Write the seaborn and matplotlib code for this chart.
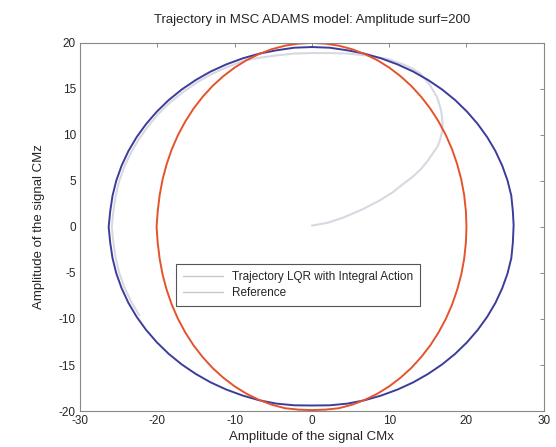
import matplotlib
matplotlib.use("Agg")
import matplotlib.pyplot as plt
from matplotlib.lines import Line2D
import seaborn as sns
import pandas as pd

# Reference circle (every 5 degrees)
ref_x = [0, 1.74, 3.47, 5.18, 6.84, 8.45, 10.0, 11.47, 12.86, 14.14, 15.32, 16.38,
         17.32, 18.13, 18.79, 19.32, 19.70, 19.92, 20.0,
         19.92, 19.70, 19.32, 18.79, 18.13, 17.32, 16.38, 15.32, 14.14, 12.86,
         11.47, 10.0, 8.45, 6.84, 5.18, 3.47, 1.74, 0,
         -1.74, -3.47, -5.18, -6.84, -8.45, -10.0, -11.47, -12.86, -14.14, -15.32,
         -16.38, -17.32, -18.13, -18.79, -19.32, -19.70, -19.95, -20.1,
         -19.95, -19.70, -19.32, -18.79, -18.13, -17.32, -16.38, -15.32, -14.14,
         -12.86, -11.47, -10.0, -8.45, -6.84, -5.18, -3.47, -1.74, 0]
ref_z = [20.0, 19.92, 19.70, 19.32, 18.79, 18.13, 17.32, 16.38, 15.32, 14.14,
         12.86, 11.47, 10.0, 8.45, 6.84, 5.18, 3.47, 1.74, 0,
         -1.74, -3.47, -5.18, -6.84, -8.45, -10.0, -11.47, -12.86, -14.14, -15.32,
         -16.38, -17.32, -18.13, -18.79, -19.32, -19.70, -19.85, -19.9,
         -19.85, -19.70, -19.32, -18.79, -18.13, -17.32, -16.38, -15.32, -14.14,
         -12.86, -11.47, -10.0, -8.45, -6.84, -5.18, -3.47, -1.74, 0,
         1.74, 3.47, 5.18, 6.84, 8.45, 10.0, 11.47, 12.86, 14.14, 15.32, 16.38,
         17.32, 18.13, 18.79, 19.32, 19.70, 19.92, 20.0]

# Steady trajectory (LQR with integral action), every 5 degrees
traj_x = [0, 2.28, 4.55, 6.78, 8.96, 11.07, 13.1, 15.03, 16.84, 18.53, 20.07,
          21.46, 22.69, 23.75, 24.62, 25.31, 25.80, 26.0, 26.1,
          26.0, 25.80, 25.31, 24.62, 23.75, 22.69, 21.46, 20.07, 18.53, 16.84,
          15.03, 13.1, 11.07, 8.96, 6.78, 4.55, 2.28, 0,
          -2.28, -4.55, -6.78, -8.96, -11.07, -13.1, -15.03, -16.84, -18.53,
          -20.07, -21.46, -22.69, -23.75, -24.62, -25.31, -25.80, -26.1, -26.3,
          -26.1, -25.80, -25.31, -24.62, -23.75, -22.69, -21.46, -20.07, -18.53,
          -16.84, -15.03, -13.1, -11.07, -8.96, -6.78, -4.55, -2.28, 0]
traj_z = [19.55, 19.48, 19.2, 18.84, 18.32, 17.67, 16.89, 15.97, 14.94, 13.79,
          12.53, 11.18, 9.75, 8.24, 6.67, 5.05, 3.39, 1.7, 0.2,
          -1.7, -3.39, -5.05, -6.67, -8.24, -9.75, -11.18, -12.53, -13.79,
          -14.94, -15.97, -16.89, -17.67, -18.32, -18.84, -19.2, -19.38, -19.4,
          -19.38, -19.2, -18.84, -18.32, -17.67, -16.89, -15.97, -14.94, -13.79,
          -12.53, -11.18, -9.75, -8.24, -6.67, -5.05, -3.39, -1.7, 0,
          1.7, 3.39, 5.05, 6.67, 8.24, 9.75, 11.18, 12.53, 13.79, 14.94, 15.97,
          16.89, 17.67, 18.32, 18.84, 19.2, 19.48, 19.55]

# Transient part of the trajectory starting at the origin
trans_x = [0, 2.0, 4.0, 6.5, 8.8, 10.5, 12.0, 13.1, 14.0, 15.0, 15.8, 16.3,
           16.6, 16.85, 16.9, 16.8, 16.6, 16.2, 15.7, 15.2, 14.6, 14.0, 13.0,
           12.0, 11.0, 10.0, 8.5, 7.0, 5.7, 4.5, 2.2, 0, -2.2, -4.5, -6.7,
           -8.85, -10.9, -12.9, -14.8, -16.6, -18.25, -19.8, -21.15, -22.35,
           -23.4, -24.25, -24.95, -25.4, -25.7, -25.9, -25.7, -25.4, -24.95,
           -24.25, -23.4, -22.35]
trans_z = [0.15, 0.45, 1.0, 1.9, 2.9, 3.8, 4.8, 5.5, 6.2, 7.2, 8.2, 8.8,
           9.5, 10.4, 11.3, 12.2, 13.0, 14.1, 14.8, 15.5, 16.1, 16.7, 17.2,
           17.6, 17.9, 18.2, 18.45, 18.65, 18.75, 18.85, 18.9, 18.9, 18.85,
           18.65, 18.4, 18.05, 17.4, 16.65, 15.75, 14.7, 13.6, 12.35, 11.0,
           9.6, 8.1, 6.6, 4.95, 3.35, 1.65, 0, -1.65, -3.35, -4.95, -6.6, -8.1,
           -9.6]

title = "Trajectory in MSC ADAMS model: Amplitude surf=200"
xlabel = "Amplitude of the signal CMx"
ylabel = "Amplitude of the signal CMz"
legend_labels = ["Trajectory LQR with Integral Action", "Reference"]
xticks = [-30, -20, -10, 0, 10, 20, 30]
yticks = [-20, -15, -10, -5, 0, 5, 10, 15, 20]

sns.set_style("white")
plt.rcParams["font.family"] = ["Liberation Sans", "DejaVu Sans"]
plt.rcParams["axes.unicode_minus"] = False

fig = plt.figure(figsize=(5.56, 4.47), dpi=100)
ax = fig.add_axes([0.144, 0.0805, 0.834, 0.8235])

df_trans = pd.DataFrame({"x": trans_x, "z": trans_z})
df_traj = pd.DataFrame({"x": traj_x, "z": traj_z})
df_ref = pd.DataFrame({"x": ref_x, "z": ref_z})

sns.lineplot(data=df_trans, x="x", y="z", sort=False, estimator=None,
             color="#d8d8e2", linewidth=1.5, ax=ax)
sns.lineplot(data=df_traj, x="x", y="z", sort=False, estimator=None,
             color="#3c3c9c", linewidth=1.4, ax=ax)
sns.lineplot(data=df_ref, x="x", y="z", sort=False, estimator=None,
             color="#e5532d", linewidth=1.4, ax=ax)

ax.set_xlim(-30, 30)
ax.set_ylim(-20, 20)
ax.set_xticks(xticks)
ax.set_yticks(yticks)
ax.tick_params(direction="in", length=3, width=0.6, color="#777777",
               labelsize=8.5, top=True, right=True, pad=3)
for s in ax.spines.values():
    s.set_color("#888888")
    s.set_linewidth(0.8)

ax.set_title(title, fontsize=9.5, pad=14)
ax.set_xlabel(xlabel, fontsize=9.5, labelpad=3)
ax.set_ylabel(ylabel, fontsize=9.5, labelpad=10)

handles = [Line2D([], [], color="#c8c8c8", linewidth=1.0),
           Line2D([], [], color="#c8c8c8", linewidth=1.0)]
leg = ax.legend(handles, legend_labels, loc="center",
                bbox_to_anchor=(0.47, 0.342), fontsize=8.5, frameon=True,
                fancybox=False, framealpha=1, edgecolor="#555555",
                handlelength=3.4, borderpad=0.6, labelspacing=0.3,
                borderaxespad=0)
leg.get_frame().set_linewidth(0.8)

fig.savefig("out.png", dpi=100)
